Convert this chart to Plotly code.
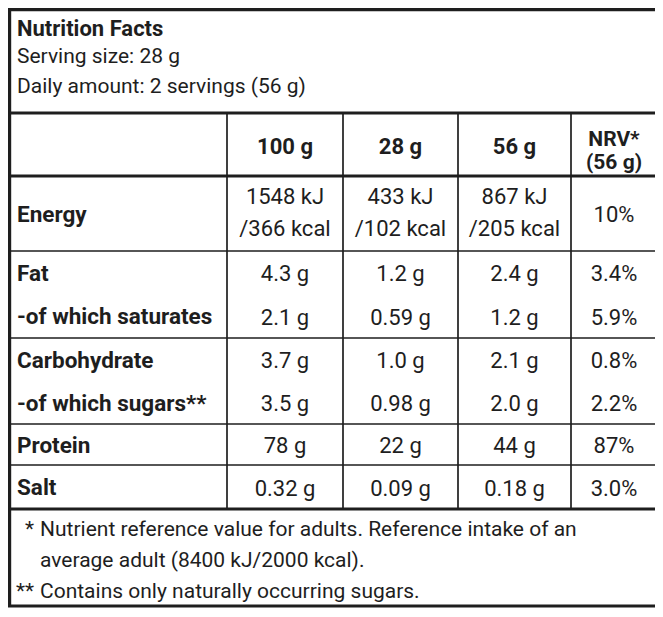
import plotly.graph_objects as go

# label data
title = "Nutrition Facts"
serving_info = ["Serving size: 28 g", "Daily amount: 2 servings (56 g)"]

columns = ["100 g", "28 g", "56 g", "NRV*<br>(56 g)"]

nutrients = ["Energy", "Fat", "-of which saturates", "Carbohydrate",
             "-of which sugars**", "Protein", "Salt"]
per_100g = ["1548 kJ<br>/366 kcal", "4.3 g", "2.1 g", "3.7 g", "3.5 g", "78 g", "0.32 g"]
per_28g = ["433 kJ<br>/102 kcal", "1.2 g", "0.59 g", "1.0 g", "0.98 g", "22 g", "0.09 g"]
per_56g = ["867 kJ<br>/205 kcal", "2.4 g", "1.2 g", "2.1 g", "2.0 g", "44 g", "0.18 g"]
nrv = ["10%", "3.4%", "5.9%", "0.8%", "2.2%", "87%", "3.0%"]
# rows in the same group share one cell block (no rule between them)
groups = ["Energy", "Fat", "Fat", "Carbohydrate", "Carbohydrate", "Protein", "Salt"]

footnote_marks = ["*", "", "**"]
footnotes = ["Nutrient reference value for adults. Reference intake of an",
             "average adult (8400 kJ/2000 kcal).",
             "Contains only naturally occurring sugars."]

# layout (pixel units of the page, y grows downwards)
W, H = 663, 617
PAGE = 8  # the page body margin the plot sits inside
FONT = "Roboto, Liberation Sans, sans-serif"
INK = "#1e1e1e"
SIZE = 22
SMALL = 21
DY = 2.5  # nudge so that text sits on the cap-height centre
col_edges = [9.6, 227, 343, 458, 571, 657]
box_top, box_bottom = 9.6, 606
info_bottom, head_bottom = 113, 176
row_heights = [75, 43.5, 43.5, 43, 43, 41, 44]
info_y = [27.5, 55, 85.5]
foot_y = [528, 559, 590]
label_x = 17
head_gap, cell_gap = 22.5, 32

col_mid = [(a + b) / 2 for a, b in zip(col_edges[:-1], col_edges[1:])]

row_top = [head_bottom]
for h in row_heights:
    row_top.append(row_top[-1] + h)
row_mid = [(a + b) / 2 for a, b in zip(row_top[:-1], row_top[1:])]
table_bottom = row_top[-1]


def split_cell(text, x, y, gap, shift=0):
    parts = text.split("<br>")
    n = len(parts)
    y = y + shift * (n - 1)
    ys = [y + (i - (n - 1) / 2) * gap for i in range(n)]
    return [x] * n, ys, parts


fig = go.Figure()


def add_text(xs, ys, texts, pos, bold=False, size=SIZE):
    if bold:
        texts = ["<b>%s</b>" % t for t in texts]
    fig.add_trace(go.Scatter(
        x=xs, y=[v + DY for v in ys], text=texts, mode="text", textposition=pos,
        textfont=dict(family=FONT, size=size, color=INK),
        hoverinfo="skip", showlegend=False, cliponaxis=False))


# header block
add_text([label_x], [info_y[0]], [title], "middle right", bold=True)
add_text([label_x] * 2, info_y[1:], serving_info, "middle right", size=SMALL)

# column headings
head_mid = (info_bottom + head_bottom) / 2 + 1
for c, name in enumerate(columns):
    x, y, t = split_cell(name, col_mid[c + 1], head_mid, head_gap, shift=4)
    add_text(x, y, t, "middle center", bold=True, size=SIZE if len(t) == 1 else SMALL)

# nutrient labels
add_text([label_x] * len(nutrients), row_mid, nutrients, "middle right", bold=True, size=22.5)

# values
vx, vy, vt = [], [], []
for c, series in enumerate([per_100g, per_28g, per_56g, nrv]):
    for r, val in enumerate(series):
        x, y, t = split_cell(val, col_mid[c + 1], row_mid[r] + 0.5, cell_gap, shift=-2)
        vx += x
        vy += y
        vt += t
add_text(vx, vy, vt, "middle center")

# footnotes
add_text([34] * len(footnote_marks), foot_y, footnote_marks, "middle left", size=SMALL)
add_text([40] * len(footnotes), foot_y, footnotes, "middle right", size=SMALL)

# rules
shapes = []


def rule(x0, y0, x1, y1, w):
    shapes.append(dict(type="line", xref="x", yref="y", x0=x0, y0=y0, x1=x1, y1=y1,
                       line=dict(color=INK, width=w)))


for y in [info_bottom, head_bottom, table_bottom]:
    rule(col_edges[0], y, col_edges[-1], y, 3.2)
for r in range(len(groups) - 1):
    if groups[r] != groups[r + 1]:
        rule(col_edges[0], row_top[r + 1], col_edges[-1], row_top[r + 1], 1.7)
for x in col_edges[1:-1]:
    rule(x, info_bottom, x, table_bottom, 1.7)
shapes.append(dict(type="rect", xref="x", yref="y", x0=col_edges[0], y0=box_top,
                   x1=col_edges[-1], y1=box_bottom, line=dict(color=INK, width=3.2)))

# keep the plot inside the page so no scrollbar eats the right edge
fig.update_layout(
    width=W - PAGE, height=H - 2 * PAGE,
    margin=dict(l=0, r=0, t=0, b=0),
    paper_bgcolor="white", plot_bgcolor="white",
    shapes=shapes,
    xaxis=dict(range=[PAGE, W], visible=False, fixedrange=True),
    yaxis=dict(range=[H - PAGE, PAGE], visible=False, fixedrange=True),
)

fig.write_html("out.html")
